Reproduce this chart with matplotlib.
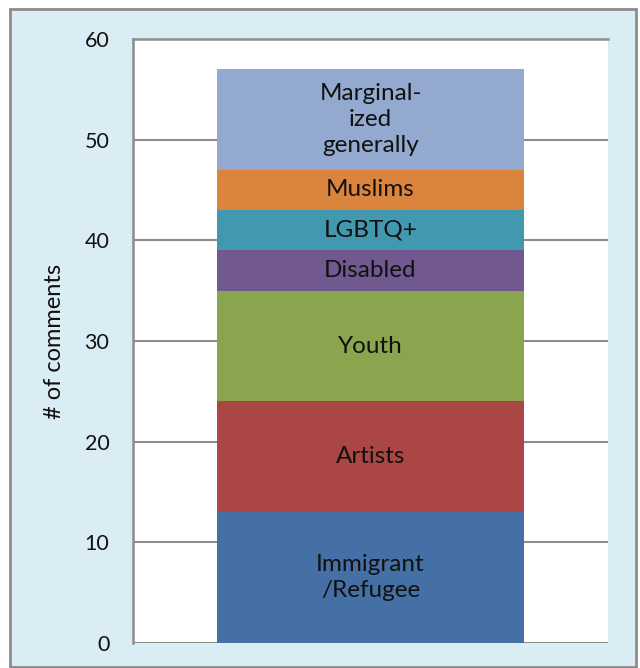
import matplotlib.pyplot as plt
from matplotlib.patches import Rectangle

# stacked segments, bottom to top
groups = ['Immigrant\n/Refugee', 'Artists', 'Youth', 'Disabled', 'LGBTQ+',
          'Muslims', 'Marginal-\nized\ngenerally']
counts = [13, 11, 11, 4, 4, 4, 10]
colors = ['#4570a6', '#aa4745', '#89a54e', '#71588f', '#4198af',
          '#db843d', '#93a9cf']
yticks = [0, 10, 20, 30, 40, 50, 60]

plt.rcParams['font.family'] = ['Lato', 'DejaVu Sans']

fig = plt.figure(figsize=(6.4, 6.68), dpi=100, facecolor='white')
# light blue chart area with grey frame, kept behind the axes
fig.patches.append(Rectangle((10 / 640, 1 / 668), 626 / 640, 658 / 668,
                             transform=fig.transFigure, facecolor='#daecf4',
                             edgecolor='#8c8c8c', linewidth=2, zorder=-10))

ax = fig.add_axes([133 / 640, 25 / 668, 475 / 640, 604 / 668])
ax.set_facecolor('white')

bottom = 0
for name, n, c in zip(groups, counts, colors):
    bars = ax.bar(0, n, width=0.646, bottom=bottom, color=c, zorder=2)
    ax.bar_label(bars, labels=[name], label_type='center', fontsize=17.5,
                 color='#111111', linespacing=1.3)
    bottom += n

ax.set_xlim(-0.5, 0.5)
ax.set_ylim(0, 60)
ax.set_yticks(yticks)
ax.set_xticks([])
ax.tick_params(axis='y', length=0, pad=17, labelsize=15.5, labelcolor='#111111')
ax.yaxis.grid(True, color='#8c8c8c', linewidth=1.5, zorder=1)
ax.set_axisbelow(True)

for side in ['bottom', 'right']:
    ax.spines[side].set_visible(False)
for side in ['left', 'top']:
    ax.spines[side].set_color('#8c8c8c')
    ax.spines[side].set_linewidth(1.8)

ax.set_ylabel('# of comments', fontsize=17, color='#111111')
ax.yaxis.set_label_coords(-0.143, 0.5)

fig.savefig('out.png', dpi=100, facecolor='white')
